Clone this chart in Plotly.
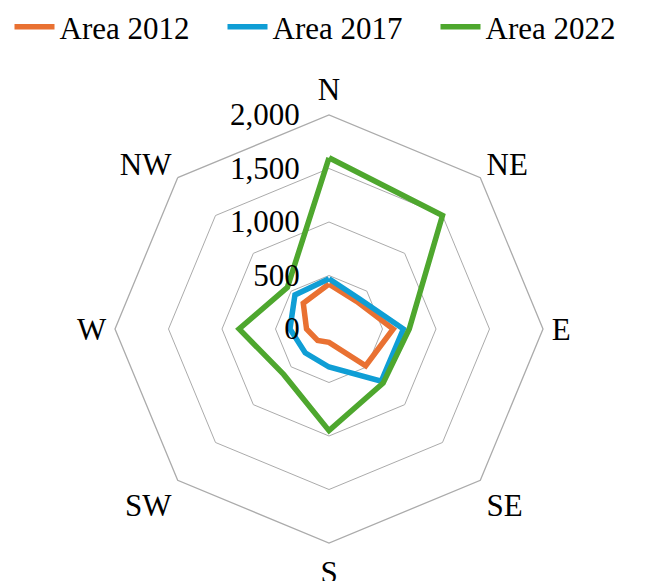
import plotly.graph_objects as go

# Directions around the compass and the area per direction
directions = ["N", "NE", "E", "SE", "S", "SW", "W", "NW"]
area_2012 = [420, 365, 600, 485, 125, 150, 210, 340]
area_2017 = [470, 400, 695, 690, 355, 315, 365, 450]
area_2022 = [1600, 1500, 750, 715, 950, 600, 840, 550]

radial_ticks = [0, 500, 1000, 1500, 2000]

series = [
    ("Area 2012", area_2012, "#E97132"),
    ("Area 2017", area_2017, "#0F9ED5"),
    ("Area 2022", area_2022, "#4EA72E"),
]

FONT = "Liberation Serif, Times New Roman, serif"
GRID = "#ABABAB"
W, H = 658, 581

fig = go.Figure()
for name, values, color in series:
    # repeat the first point so each polygon closes
    fig.add_trace(go.Scatterpolar(
        r=values + values[:1],
        theta=directions + directions[:1],
        mode="lines",
        name=name,
        line=dict(color=color, width=5.5),
    ))

fig.update_layout(
    width=W,
    height=H,
    # full-width plot area so the one-row legend has room; the polar
    # domain is narrowed instead
    margin=dict(l=0, r=0, t=113, b=38),
    paper_bgcolor="white",
    plot_bgcolor="white",
    font=dict(family=FONT, size=31, color="black"),
    showlegend=True,
    legend=dict(
        orientation="h",
        x=0.5, xanchor="center",
        y=1.27, yanchor="top",
        font=dict(family=FONT, size=31),
        entrywidth=158,
        itemwidth=40,
        bgcolor="rgba(0,0,0,0)",
    ),
    polar=dict(
        domain=dict(x=[114 / W, 544 / W], y=[0, 1]),
        bgcolor="white",
        gridshape="linear",
        radialaxis=dict(
            range=[0, 2000],
            tickvals=radial_ticks,
            tickformat=",",
            angle=90,
            tickangle=90,
            side="counterclockwise",
            showline=False,
            showgrid=True,
            gridcolor=GRID,
            gridwidth=1.3,
            ticks="outside",
            ticklen=18,
            tickcolor="rgba(0,0,0,0)",
            tickfont=dict(family=FONT, size=31),
        ),
        angularaxis=dict(
            categoryorder="array",
            categoryarray=directions,
            direction="clockwise",
            rotation=90,
            showline=True,
            linecolor=GRID,
            linewidth=1.3,
            showgrid=False,
            ticks="outside",
            ticklen=2,
            tickcolor="rgba(0,0,0,0)",
            tickfont=dict(family=FONT, size=31),
        ),
    ),
)

fig.write_html("out.html")
